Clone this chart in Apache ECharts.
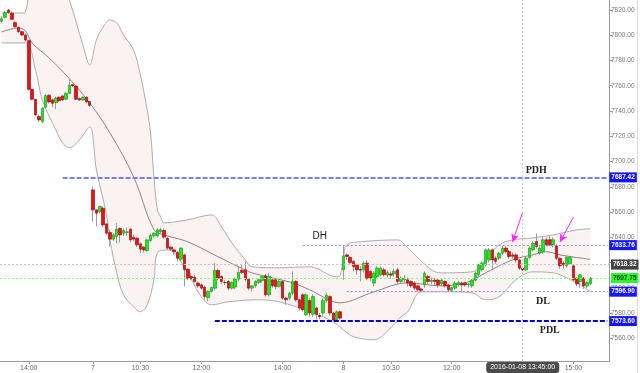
<!DOCTYPE html>
<html><head><meta charset="utf-8">
<script src="https://cdn.jsdelivr.net/npm/echarts@6/dist/echarts.min.js"></script>
<style>html,body{margin:0;padding:0;background:#fff}#c{width:640px;height:373px}</style>
</head><body><div id="c"></div>
<script>
// ---- sessions (5-minute candles) ----
const sessions = [['2016-01-06','13:20','15:30'],['2016-01-07','09:20','15:25'],['2016-01-08','09:20','15:25']];
const padSlots = ['2016-01-08 15:30','2016-01-08 15:35','2016-01-08 15:40','2016-01-08 15:45','2016-01-08 15:50'];

// ---- OHLC, day 6 ----
const open6  = [7811,7814.2,7820,7817.5,7810,7806.3,7802.8,7800.2,7795.7,7757.2,7749.3,7735.6,7731.6,7743,7752.4,7748.8,7746.6,7750.9,7751.9,7749.3,7754,7760.9,7759.8,7749.8,7748.7,7750.9,7747.4];
const high6  = [7815,7819.2,7820.8,7818.7,7811.5,7807,7803.5,7801.5,7796.5,7757.5,7749.5,7737,7743,7753.5,7753.2,7749.8,7751.4,7751.6,7752.5,7755,7765.1,7761.5,7760.6,7750.5,7751.6,7751.6,7748];
const low6   = [7810,7813.4,7817.3,7812.1,7805.5,7802,7799.5,7794.9,7756.1,7748.7,7736.1,7731.6,7730.3,7742.2,7746,7743,7741.4,7747,7748,7748.7,7753.5,7759,7748.7,7748,7748,7746,7743.5];
const close6 = [7813,7817.9,7818,7812.6,7806.8,7802.8,7800.2,7796.2,7757.2,7749.3,7736.9,7732.9,7742.2,7752.2,7747.2,7746.1,7750.3,7748.2,7748.7,7754,7760.6,7759.8,7749.3,7748.7,7750.9,7747.2,7744.5];
// ---- OHLC, day 7 ----
const open7  = [7677.5,7661.7,7660.4,7663,7650.6,7643.7,7638.5,7640.6,7646.9,7643.2,7643.7,7646.4,7640,7639.3,7634.8,7632.2,7629.5,7637.4,7641.1,7641.1,7644.3,7645.4,7639.3,7632.2,7630,7628,7622.6,7626,7614.7,7609,7608.4,7603.7,7602.3,7600.5,7592.3,7597.1,7599.7,7613.7,7608.9,7604.2,7605,7599.7,7600.5,7606.8,7613.7,7614.2,7606.8,7599.7,7601.5,7604.2,7605.7,7609.5,7594.4,7606.3,7606.3,7601,7605,7591.8,7591.8,7595.7,7605,7590.5,7594.4,7578.6,7590,7579,7584,7578,7580,7590,7593,7580,7574.5,7581];
const high7  = [7680,7662,7665,7664.3,7651,7645.9,7643,7651.2,7648,7647,7647.7,7647,7642,7640,7636,7633,7639,7643,7644,7647.2,7647.5,7647,7640,7633,7631,7629,7632,7627,7615.5,7611.6,7610,7605,7603.5,7601.5,7598,7601,7619.5,7615,7610,7606,7606,7605,7608,7616.8,7618.2,7620.8,7608,7602,7606,7607,7610,7611,7612,7608,7607,7606,7606,7593,7597,7612.9,7606,7591,7595.7,7595.5,7592,7595,7585,7580,7592,7596,7594,7581,7582,7582];
const low7   = [7652.5,7648.5,7659,7648,7642,7632.7,7637,7635.3,7635.8,7641,7641,7636,7637,7632,7627.4,7628,7628.5,7636,7640,7640,7643,7639,7630,7629,7626,7620.8,7621,7601,7606,7606,7604,7600,7598.5,7590.5,7589.1,7596,7598,7606,7603,7602,7598,7598.5,7599,7605,7611,7605,7598,7597,7600,7603,7604,7593,7593,7600,7599,7600,7590.5,7586.5,7590,7594,7589,7582,7581.2,7577.5,7577,7577,7575,7575,7578,7588,7578,7573.6,7574,7575];
const close7 = [7661.7,7659.1,7664.3,7649.8,7643.2,7638.5,7641.9,7646.4,7641.9,7645.4,7644.3,7637.9,7638.5,7634,7630.6,7630,7637.9,7641.4,7643.2,7645.9,7645.9,7640.1,7631.4,7630.6,7628.5,7623.4,7631.4,7614.2,7607.6,7607.4,7605,7601.5,7599.7,7593.1,7597.1,7600.2,7613.7,7607.6,7605,7604,7599.7,7604.2,7606.8,7612.1,7612.1,7606.8,7599.7,7601.5,7605,7606.3,7608.9,7594.4,7609,7601.5,7601,7605,7591.8,7590.5,7595.7,7605,7590.5,7583.9,7582.6,7594.4,7580,7593,7579,7577,7590,7594,7580,7574.5,7581,7576];
// ---- OHLC, day 8 ----
const open8  = [7614.2,7626,7624,7620.8,7618.2,7614.5,7614.2,7619.5,7612.9,7603.7,7608.9,7610.3,7614.2,7610,7611,7611,7614.2,7605,7606.3,7606.3,7605,7603.7,7601.5,7599,7602.3,7609,7605,7606,7606,7603,7605,7602.3,7597.9,7599.7,7602.3,7603.7,7603.7,7602.3,7601.5,7606,7610.3,7614.2,7618.2,7622,7630,7623.4,7623.4,7627.4,7631.4,7628.7,7626,7626,7622,7615.5,7614.2,7624,7630,7636.6,7627.4,7628.7,7638,7638,7634,7633.2,7623.4,7619.5,7617.4,7619,7617.4,7607.6,7605,7607.6,7601.5,7603.1];
const high8  = [7633.76,7627,7625,7622,7619,7617,7621,7622,7614,7613,7617,7617,7616,7614,7613,7615,7616,7609,7610,7608,7606,7605,7602.5,7600,7613,7610,7608,7608,7607,7607,7606,7603,7601,7605,7605.5,7605,7605,7604,7607,7613,7619,7621,7631,7631.5,7631,7625,7628.5,7633,7633,7630,7628,7627,7623,7616,7624.5,7633,7637,7643,7633,7640,7640,7641,7640,7634.5,7624,7621,7625,7625,7618,7608,7611,7608.5,7605,7608.5];
const low8   = [7606.3,7622,7618,7613,7610.3,7605,7612,7606,7605,7601,7607,7609,7609,7608,7607,7609,7603,7603,7604,7601,7600,7598,7597,7597,7600,7603,7603,7602,7600,7601,7600,7596.9,7597,7598.5,7601,7596.9,7601,7600,7600,7605,7609,7613,7617,7620,7614,7619,7622,7626,7627,7623,7623,7620,7614,7611,7613,7623,7629,7631,7626,7627,7633,7633,7632,7622,7615,7615,7616,7618,7605,7601,7600,7599,7599.7,7602];
const close8 = [7625.3,7624.8,7620,7616.8,7614.2,7614,7619.5,7607.6,7607.6,7611.6,7615.5,7615.5,7610.3,7612,7610,7613,7605,7607.6,7607.6,7603.7,7601.5,7599.7,7598.4,7598,7611.6,7605,7606,7605,7602.3,7606,7601.5,7598.4,7600,7603.7,7604.2,7602.3,7602.3,7603,7606,7611.6,7618.2,7619.5,7630,7630,7622,7621,7627.4,7631.4,7628.7,7624.8,7625,7622,7615.5,7614.2,7623.4,7631.4,7635.3,7632.7,7631.4,7638,7634,7634,7638,7623.4,7617.4,7618,7624.2,7624.2,7606.3,7603.1,7610.3,7601.5,7604.2,7607.75];

// ---- Bollinger-style bands: [time, value] ----
const upperBand = [['06 13:20',7817.6],['06 13:30',7817.6],['06 13:50',7817.6],['06 13:55',7818.5],['06 14:00',7832],['06 14:10',7858],['06 14:25',7868],['06 14:40',7855],['06 15:00',7827.9],['06 15:10',7810.5],['06 15:20',7792.3],['06 15:30',7776.5],
 ['07 09:25',7796.2],['07 09:35',7806.5],['07 09:45',7812.1],['07 09:55',7809.7],['07 10:05',7800.2],['07 10:20',7788.3],['07 10:30',7768.5],['07 10:40',7740.8],['07 10:45',7722.6],['07 10:50',7687.8],['07 10:55',7662],['07 11:00',7656.1],['07 11:05',7651.4],['07 11:40',7653.8],['07 12:15',7657.7],['07 12:30',7648.2],['07 12:45',7635.6],['07 13:05',7622.1],['07 13:15',7616.6],['07 13:55',7615.8],['07 14:40',7616.6],['07 15:20',7608.7],['07 15:25',7609.5],
 ['08 09:20',7623.7],['08 09:25',7634],['08 09:45',7636.4],['08 10:40',7637.9],['08 10:55',7631.6],['08 11:30',7614.2],['08 11:45',7611.8],['08 12:30',7612.6],['08 12:50',7622.1],['08 13:10',7634],['08 13:30',7637.9],['08 14:00',7639.5],['08 14:30',7641.9],['08 15:05',7645.9],['08 15:25',7646.7]];
const middleBand = [['06 13:20',7802.6],['06 13:45',7805.7],['06 13:55',7803.4],['06 14:05',7793.9],['06 14:30',7782],['06 14:55',7768.5],['06 15:30',7746.4],
 ['07 09:45',7722.6],['07 10:20',7687.8],['07 10:50',7645.9],['07 11:05',7641.9],['07 11:40',7636.4],['07 12:25',7624.5],['07 12:55',7616.6],['07 13:15',7611.8],['07 14:15',7603.9],['07 14:40',7598.4],['07 15:25',7588.1],
 ['08 10:05',7596.8],['08 10:55',7603.9],['08 11:45',7601.5],['08 12:25',7604.7],['08 12:50',7611.8],['08 13:30',7622.1],['08 14:00',7626.1],['08 14:20',7628.5],['08 14:40',7626],['08 15:25',7622.5]];
const lowerBand = [['06 13:20',7793.9],['06 13:55',7793.9],['06 14:10',7772.5],['06 14:20',7748.8],['06 14:40',7725],['06 14:50',7714.7],['06 15:00',7710.8],['06 15:15',7717.1],['06 15:30',7727.4],
 ['07 09:25',7693.4],['07 09:40',7657.7],['07 09:45',7637.9],['07 09:55',7611.8],['07 10:05',7594.4],['07 10:20',7584.9],['07 10:30',7581],['07 10:40',7586.5],['07 10:50',7606.3],['07 10:55',7627.7],['07 11:10',7630],['07 11:20',7627.7],['07 11:40',7611.8],['07 12:00',7592.8],['07 12:15',7586.5],['07 12:40',7588.9],['07 13:25',7590.5],['07 13:55',7588.9],['07 14:45',7580.2],['07 15:15',7573],
 ['08 09:20',7566.7],['08 09:35',7561.2],['08 10:05',7558.8],['08 10:30',7568.3],['08 10:45',7577],['08 10:55',7581],['08 11:15',7596.8],['08 11:45',7596.8],['08 12:30',7596],['08 12:50',7590.5],['08 13:10',7592.8],['08 13:35',7606.3],['08 14:00',7612.6],['08 14:30',7611.8],['08 14:50',7607.9],['08 15:10',7602.3],['08 15:25',7596.8]];

// ---- levels & annotations ----
const levelValues = { PDH: 7687.42, DH: 7633.76, DL: 7596.90, PDL: 7573.60, ref: 7618.32, last: 7607.75 };
const levelStart  = { PDH: '06 14:50', PDL: '07 12:20', DH: '07 14:30', DL: '08 09:25' };
const noteText    = [['PDH','08 14:05',7693.3],['DH','07 14:55',7641.0],['DL','08 14:15',7589.5],['PDL','08 14:25',7566.6]];
const arrows      = [[['08 13:45',7660.0],['08 13:30',7636.2]],[['08 15:00',7656.0],['08 14:40',7636.2]]];
const boxZone     = [['08 11:45',7606.9],['08 12:50',7589.1]];
const crossTime   = '2016-01-08 13:45';
const yTicks = [7560,7580,7600,7620,7640,7660,7680,7700,7720,7740,7760,7780,7800,7820];
const xLabels = {'2016-01-06 14:00':'14:00','2016-01-07 09:20':'7','2016-01-07 10:30':'10:30','2016-01-07 12:00':'12:00','2016-01-07 14:00':'14:00','2016-01-08 09:20':'8','2016-01-08 10:30':'10:30','2016-01-08 12:00':'12:00','2016-01-08 14:00':'14:00','2016-01-08 15:00':'15:00'};

// ---- build ----
function buildTimes(date, start, end){
  let [h,m] = start.split(':').map(Number); const [eh,em] = end.split(':').map(Number); const out=[];
  while (h*60+m <= eh*60+em){ out.push(date+' '+String(h).padStart(2,'0')+':'+String(m).padStart(2,'0')); m+=5; if(m>=60){m-=60;h++;} }
  return out;
}
const times = [];
sessions.forEach(s => times.push(...buildTimes(s[0], s[1], s[2])));
const categories = times.concat(padSlots);
const key = s => '2016-01-' + s;
const O = open6.concat(open7, open8), H = high6.concat(high7, high8), L = low6.concat(low7, low8), C = close6.concat(close7, close8);
const fullCandles = times.map((t,i) => [t, O[i], C[i], L[i], H[i]]);
const bodyCandles = times.map((t,i) => [t, O[i], C[i], Math.min(O[i],C[i]), Math.max(O[i],C[i])]);
const lastSlot = padSlots[padSlots.length-1];
const band = arr => arr.map(p => [key(p[0]), p[1]]);

function boxLabel(v, bg, fg){
  return { show:true, position:'end', distance:2, formatter: v.toFixed(2), backgroundColor:bg, color:fg,
    fontSize:6.5, fontWeight:'bold', fontFamily:'Arial, Liberation Sans, sans-serif', padding:[2,2,1,2] };
}
function partialLine(name, color, width, dash, bg){
  const v = levelValues[name];
  return [{ coord:[key(levelStart[name]), v], lineStyle:{color, width, type:dash}, label: boxLabel(v, bg, '#fff') },
          { coord:[lastSlot, v] }];
}

const markLines = [
  partialLine('PDH', '#7a7aff', 2, [5,2], '#1414ff'),
  partialLine('PDL', '#0000d0', 2, [5,2], '#1414ff'),
  partialLine('DH', '#8c8cff', 1, [2,2], '#1414ff'),
  partialLine('DL', '#8c8cff', 1, [2,2], '#1414ff'),
  { yAxis: levelValues.ref, lineStyle:{color:'#c4c4c4', width:1, type:[2,2]}, label: boxLabel(levelValues.ref, '#444', '#fff') },
  { yAxis: levelValues.last, lineStyle:{color:'#7dff7d', width:1, type:[2,2]}, label: boxLabel(levelValues.last, '#22ff22', '#222') },
  ...arrows.map(a => [{ coord:[key(a[0][0]), a[0][1]], lineStyle:{color:'#ff22ff', width:1, type:'solid'}, symbol:'none', label:{show:false} },
                      { coord:[key(a[1][0]), a[1][1]], symbol:'arrow', symbolSize:[6,8] }])
];

const chart = echarts.init(document.getElementById('c'), null, {renderer:'canvas'});
const btns = ['‹','−','C','+','›'];
chart.setOption({
  animation:false,
  backgroundColor:'#fff',
  grid:{left:0, right:31, top:0, bottom:12},
  xAxis:{
    type:'category', data:categories, boundaryGap:true, z:5,
    axisLine:{show:true, lineStyle:{color:'#9a9a9a', width:1}},
    axisTick:{show:true, interval:(i,v)=>v in xLabels, alignWithLabel:true, length:3, lineStyle:{color:'#9a9a9a'}},
    axisLabel:{interval:(i,v)=>v in xLabels, formatter:v=>xLabels[v]||'', fontSize:7, color:'#666', margin:4, fontFamily:'Arial, Liberation Sans, sans-serif'},
    splitLine:{show:false},
    axisPointer:{show:true, type:'line', value:crossTime, status:'show', triggerTooltip:false,
      lineStyle:{color:'#cfcfcf', width:1, type:[2,2]},
      label:{show:true, formatter:()=>crossTime+':00', backgroundColor:'#4a4a4a', color:'#fff', fontSize:7, padding:[2,4,2,4], margin:1, fontFamily:'Arial, Liberation Sans, sans-serif'}}
  },
  yAxis:{
    type:'value', position:'right', min:7542.0, max:7827.9,
    axisLine:{show:true, lineStyle:{color:'#9a9a9a'}},
    axisTick:{show:true, customValues:yTicks, length:3, lineStyle:{color:'#9a9a9a'}},
    axisLabel:{customValues:yTicks, formatter:v=>v.toFixed(2), fontSize:6.5, color:'#777', margin:2, fontFamily:'Arial, Liberation Sans, sans-serif'},
    splitLine:{show:false}
  },
  series:[
    { type:'line', name:'upper', data:band(upperBand), smooth:0.35, symbol:'none', z:1,
      lineStyle:{color:'#b3aaaa', width:1}, areaStyle:{color:'#fbf2f2', origin:'start', opacity:1} },
    { type:'line', name:'lower', data:band(lowerBand), smooth:0.35, symbol:'none', z:1,
      lineStyle:{color:'#b3aaaa', width:1}, areaStyle:{color:'#ffffff', origin:'start', opacity:1} },
    { type:'line', name:'middle', data:band(middleBand), smooth:0.35, symbol:'none', z:1,
      lineStyle:{color:'#8d8585', width:1} },
    { type:'candlestick', name:'wick', data:fullCandles.map(d=>d.slice(1)), barWidth:1, z:3,
      itemStyle:{color:'#9a9a9a', color0:'#9a9a9a', borderColor:'#9a9a9a', borderColor0:'#9a9a9a', borderWidth:1} },
    { type:'candlestick', name:'body', data:bodyCandles.map(d=>d.slice(1)), barWidth:3, z:4,
      itemStyle:{color:'#11f011', color0:'#ee1111', borderColor:'#2a9a2a', borderColor0:'#a01010', borderWidth:0.7},
      markLine:{ silent:true, symbol:['none','none'], animation:false, data:markLines },
      markArea:{ silent:true, itemStyle:{color:'rgba(238,120,150,0.42)', borderColor:'rgba(245,120,190,0.9)', borderWidth:1},
        data:[[{coord:[key(boxZone[0][0]), boxZone[0][1]]},{coord:[key(boxZone[1][0]), boxZone[1][1]]}]] },
      markPoint:{ silent:true, symbol:'circle', symbolSize:0,
        data: noteText.map(n => ({ name:n[0], coord:[key(n[1]), n[2]],
          label:{show:true, formatter:'{b}', position:'inside', color:'#222', fontSize:10,
            fontFamily: n[0]==='DH' ? 'Arial, Liberation Sans, sans-serif' : 'Liberation Serif, Times New Roman, serif',
            fontWeight: n[0]==='DH' ? 'normal' : 'bold'} })) }
    }
  ],
  graphic:[
    { type:'line', shape:{x1:637.5, y1:0, x2:637.5, y2:373}, style:{stroke:'#dcdcdc', lineWidth:1}, silent:true },
    ...btns.map((b,i)=>({ type:'group', x:218+i*19.2, y:347, silent:true, children:[
      { type:'circle', shape:{cx:0, cy:0, r:8}, style:{fill:'rgba(248,248,248,0.8)', stroke:'#dadada', lineWidth:1} },
      { type:'text', style:{text:b, x:0, y:0, align:'center', verticalAlign:'middle', fill:'#c4c4c4', fontSize:10, fontFamily:'DejaVu Sans, sans-serif'} }
    ]}))
  ]
});
</script></body></html>
